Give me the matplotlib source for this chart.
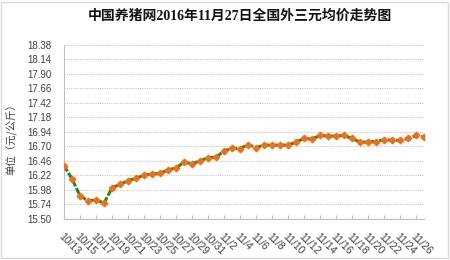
import pandas as pd
import matplotlib
matplotlib.use("Agg")
import matplotlib.pyplot as plt
from matplotlib.patches import Rectangle

title = "中国养猪网2016年11月27日全国外三元均价走势图"
y_label = "单位（元/公斤）"

dates = pd.date_range("2016-10-13", "2016-11-27")
date_labels = [f"{d.month}/{d.day}" for d in dates]

prices = [16.38, 16.16, 15.88, 15.80, 15.81, 15.76, 16.01, 16.07, 16.13, 16.17,
          16.22, 16.24, 16.25, 16.31, 16.34, 16.44, 16.41, 16.46, 16.51, 16.52,
          16.62, 16.67, 16.66, 16.73, 16.68, 16.72, 16.72, 16.72, 16.72, 16.77,
          16.83, 16.82, 16.88, 16.87, 16.87, 16.88, 16.83, 16.77, 16.77, 16.78,
          16.81, 16.80, 16.80, 16.83, 16.88, 16.85]

y_ticks = [15.50, 15.74, 15.98, 16.22, 16.46, 16.70, 16.94,
           17.18, 17.42, 17.66, 17.90, 18.14, 18.38]

fig = plt.figure(figsize=(4.5, 2.6), dpi=100)
ax = fig.add_axes([64 / 450, 1 - 218.7 / 260, 360 / 450, 173.7 / 260])

x = list(range(len(prices)))
ax.plot(x, prices, color="#228B22", linewidth=2.2, linestyle=(0, (2.2, 0.6)),
        marker="D", markersize=3.3, markerfacecolor="#FF6A10",
        markeredgecolor="#FF6A10", zorder=3)

ax.set_xlim(0, len(prices) - 1)
ax.set_ylim(y_ticks[0], y_ticks[-1])
ax.set_yticks(y_ticks)
ax.set_yticklabels([f"{v:.2f}" for v in y_ticks], fontsize=7,
                   family="Liberation Sans", color="#404040")
ax.tick_params(axis="y", length=0, pad=9)

xt = x[::2]
ax.set_xticks(xt)
ax.set_xticklabels([date_labels[i] for i in xt], rotation=-45, ha="left",
                   va="top", rotation_mode="anchor", fontsize=7.5,
                   family="Liberation Sans", color="#404040")
ax.tick_params(axis="x", direction="in", length=3, color="#bfbfbf", pad=9)

ax.yaxis.grid(True, linestyle=(0, (1, 1)), color="#c8c8c8", linewidth=0.8)
ax.set_axisbelow(True)
for s in ["top", "right"]:
    ax.spines[s].set_visible(False)
for s in ["left", "bottom"]:
    ax.spines[s].set_color("#bfbfbf")
    ax.spines[s].set_linewidth(0.8)

fig.text(240 / 450, 1 - 16 / 260, title, ha="center", va="center",
         fontsize=10, fontweight="bold",
         family=["Liberation Serif", "Noto Sans CJK SC"], color="#111111")
fig.text(12 / 450, 1 - 137 / 260, y_label, rotation=90, ha="center",
         va="center", fontsize=7.5, family=["Noto Sans CJK SC", "DejaVu Sans"],
         color="#404040")

fig.patches.append(Rectangle((1 / 450, 2 / 260), 447 / 450, 256 / 260,
                             transform=fig.transFigure, fill=False,
                             edgecolor="#d9d9d9", linewidth=1))

fig.savefig("out.png", dpi=100)
